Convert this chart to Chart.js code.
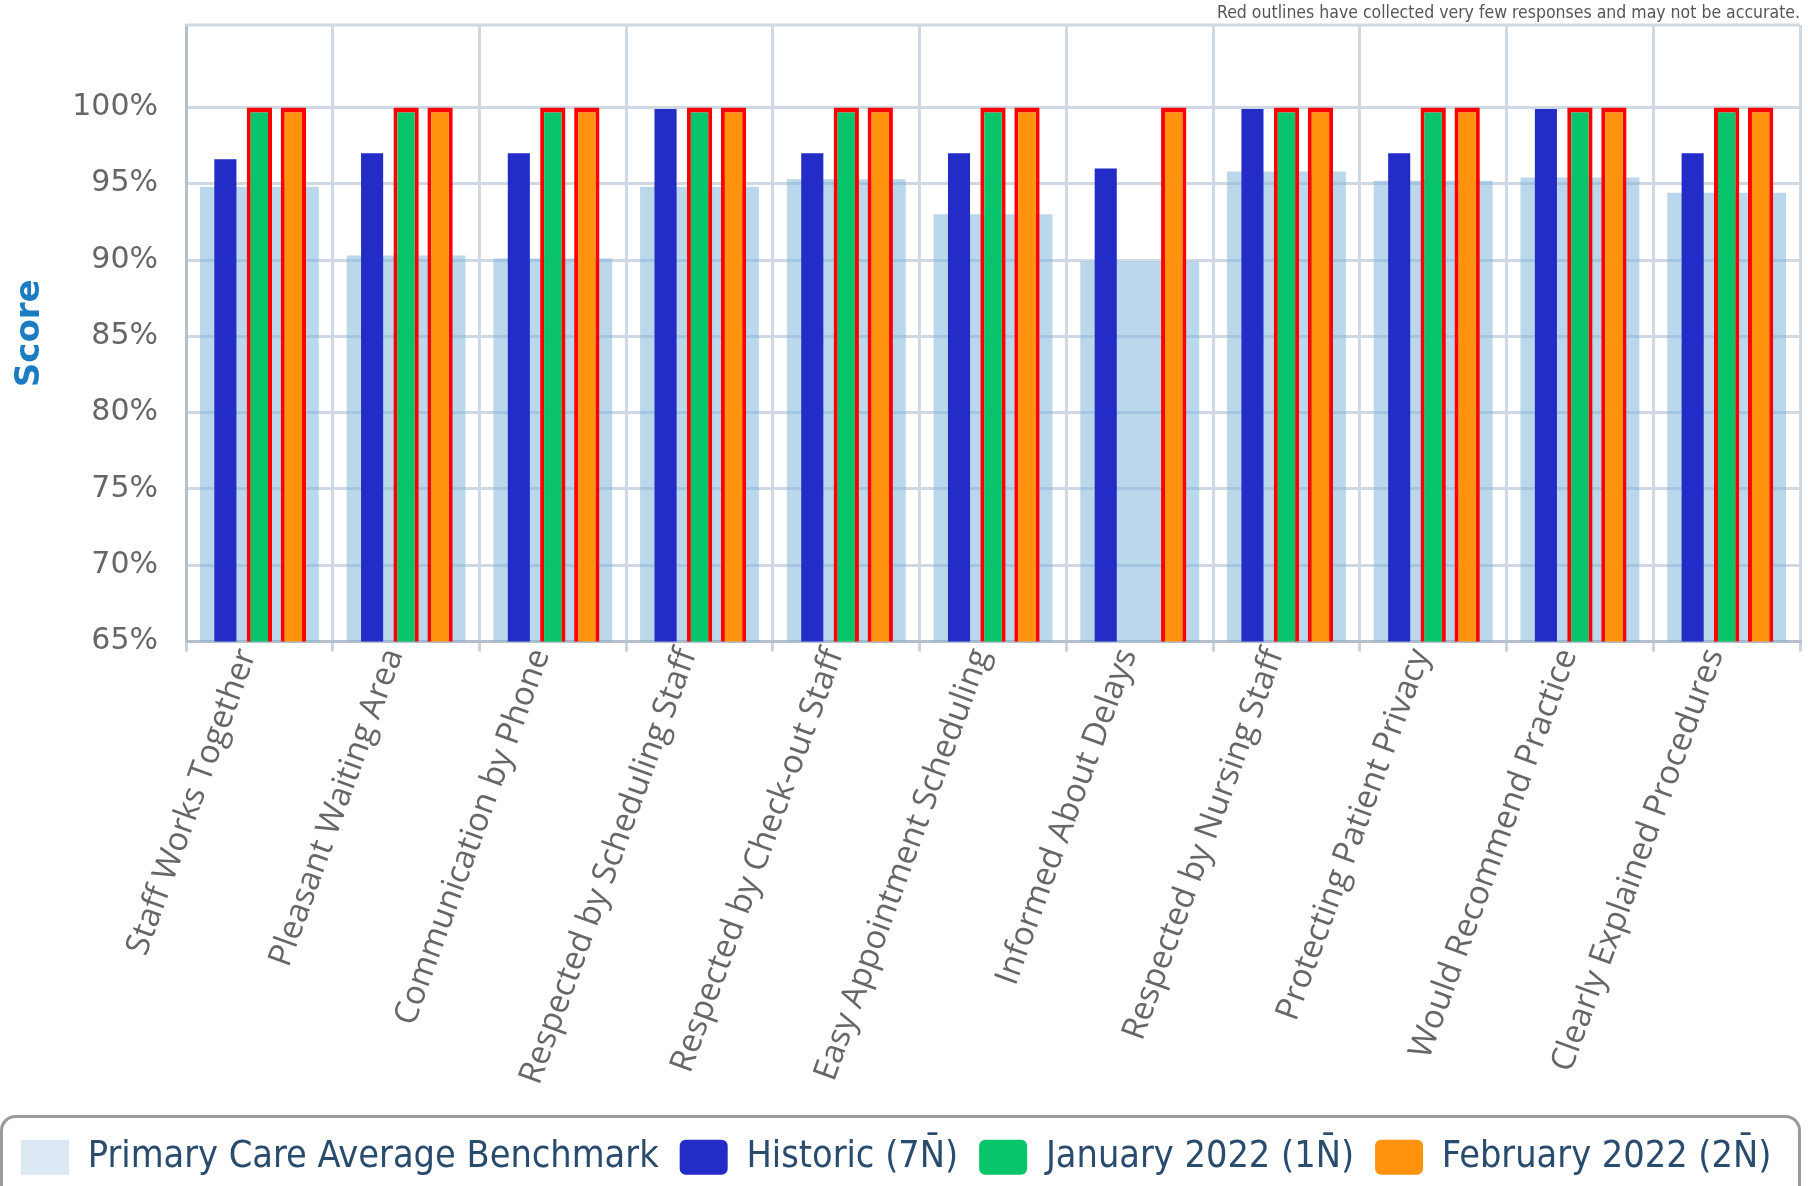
<!DOCTYPE html>
<html>
<head>
<meta charset="utf-8">
<title>Score by question</title>
<script src="https://cdn.jsdelivr.net/npm/chart.js@4.4.1/dist/chart.umd.min.js"></script>
<style>
    html, body { margin: 0; padding: 0; background: #fff; }
    #wrap { width: 1808px; height: 1186px; position: relative; }
</style>
</head>
<body>
<div id="wrap"><canvas id="scoreChart"></canvas></div>
<script>
const questions = [
    "Staff Works Together",
    "Pleasant Waiting Area",
    "Communication by Phone",
    "Respected by Scheduling Staff",
    "Respected by Check-out Staff",
    "Easy Appointment Scheduling",
    "Informed About Delays",
    "Respected by Nursing Staff",
    "Protecting Patient Privacy",
    "Would Recommend Practice",
    "Clearly Explained Procedures"
];
const benchmark = [94.8, 90.3, 90.1, 94.8, 95.3, 93.0, 89.9, 95.8, 95.2, 95.4, 94.4];
const historic = [96.6, 97.0, 97.0, 99.9, 97.0, 97.0, 96.0, 99.9, 97.0, 99.9, 97.0];
const january = [100, 100, 100, 100, 100, 100, null, 100, 100, 100, 100];
const february = [100, 100, 100, 100, 100, 100, 100, 100, 100, 100, 100];
const yTicks = [65, 70, 75, 80, 85, 90, 95, 100];
const seriesNames = ["Primary Care Average Benchmark", "Historic (7N\u0304)", "January 2022 (1N\u0304)", "February 2022 (2N\u0304)"];

const gridColor = "#cfd9e3";
const axisColor = "#b5bfcb";

// top border of the plot + rounded frame around the legend
const framePlugin = {
    id: "frames",
    beforeDatasetsDraw(chart) {
        const { ctx, chartArea } = chart;
        ctx.save();
        ctx.strokeStyle = gridColor;
        ctx.lineWidth = 3;
        ctx.beginPath();
        ctx.moveTo(chartArea.left, chartArea.top);
        ctx.lineTo(chartArea.right, chartArea.top);
        ctx.stroke();
        ctx.restore();
    },
    afterDraw(chart) {
        const ctx = chart.ctx;
        const lg = chart.legend;
        ctx.save();
        ctx.strokeStyle = "#9a9a9a";
        ctx.lineWidth = 3;
        ctx.beginPath();
        ctx.roundRect(1.5, lg.top - 1, chart.width - 10, 120, 14);
        ctx.stroke();
        ctx.restore();
    }
};

Chart.defaults.font.family = "'DejaVu Sans', Verdana, sans-serif";

const ctx = document.getElementById("scoreChart").getContext("2d");
new Chart(ctx, {
    type: "bar",
    data: {
        labels: questions,
        datasets: [
            {
                label: seriesNames[0],
                data: benchmark,
                backgroundColor: "rgba(122, 178, 218, 0.52)",
                grouped: false,
                barPercentage: 0.81,
                categoryPercentage: 1,
                order: 1
            },
            {
                label: seriesNames[1],
                data: historic,
                backgroundColor: "#232cc6",
                barPercentage: 0.65,
                categoryPercentage: 0.695
            },
            {
                label: seriesNames[2],
                data: january,
                backgroundColor: "#08c46a",
                borderColor: "#ff0000",
                borderWidth: { top: 5, left: 4, right: 4, bottom: 0 },
                barPercentage: 0.745,
                categoryPercentage: 0.695
            },
            {
                label: seriesNames[3],
                data: february,
                backgroundColor: "#ff930e",
                borderColor: "#ff0000",
                borderWidth: { top: 5, left: 4, right: 4, bottom: 0 },
                barPercentage: 0.745,
                categoryPercentage: 0.695
            }
        ]
    },
    options: {
        responsive: true,
        maintainAspectRatio: false,
        devicePixelRatio: 1,
        animation: false,
        layout: { padding: { left: 0, right: 8, top: 0, bottom: 0 } },
        plugins: {
            tooltip: { enabled: false },
            title: {
                display: true,
                text: "Red outlines have collected very few responses and may not be accurate.",
                align: "end",
                color: "#555",
                font: { family: "'DejaVu Sans Condensed', 'DejaVu Sans', sans-serif", size: 17.5, weight: "normal" },
                padding: { top: 3, bottom: 1 }
            },
            legend: {
                position: "bottom",
                align: "start",
                labels: {
                    boxWidth: 48,
                    boxHeight: 35,
                    padding: 21,
                    color: "#284b6e",
                    font: { family: "'DejaVu Sans Condensed', 'DejaVu Sans', sans-serif", size: 37.5 },
                    generateLabels(chart) {
                        const fills = ["#dce9f5", "#232cc6", "#08c46a", "#ff930e"];
                        return chart.data.datasets.map((ds, i) => ({
                            text: ds.label,
                            fillStyle: fills[i],
                            strokeStyle: fills[i],
                            lineWidth: 0,
                            borderRadius: i === 0 ? 0 : 6,
                            fontColor: "#284b6e",
                            hidden: false,
                            datasetIndex: i
                        }));
                    }
                }
            }
        },
        scales: {
            x: {
                grid: { color: gridColor, lineWidth: 3, tickLength: 10, tickColor: "#c6d5e4", offset: true },
                border: { color: axisColor, width: 3 },
                ticks: {
                    color: "#666",
                    font: { family: "'Open Sans', sans-serif", size: 33 },
                    minRotation: 70,
                    maxRotation: 70,
                    padding: -8,
                    labelOffset: -12,
                    autoSkip: false
                },
                afterFit(scale) { scale.height = 476; }
            },
            y: {
                min: 65,
                max: 105.4,
                afterBuildTicks(scale) {
                    scale.ticks = yTicks.map(v => ({ value: v }));
                },
                afterFit(scale) {
                    scale.width = 186;
                    scale.paddingTop = 0;
                    scale.paddingBottom = 0;
                },
                grid: { color: gridColor, lineWidth: 3, drawTicks: false },
                border: { color: axisColor, width: 3 },
                ticks: {
                    color: "#666",
                    font: { size: 30 },
                    padding: 28,
                    callback: v => v + "%"
                },
                title: {
                    display: true,
                    text: "Score",
                    color: "#1c7cc2",
                    font: { size: 34, weight: "bold" },
                    padding: { top: 10, bottom: 0 }
                }
            }
        }
    },
    plugins: [framePlugin]
});
</script>
</body>
</html>
